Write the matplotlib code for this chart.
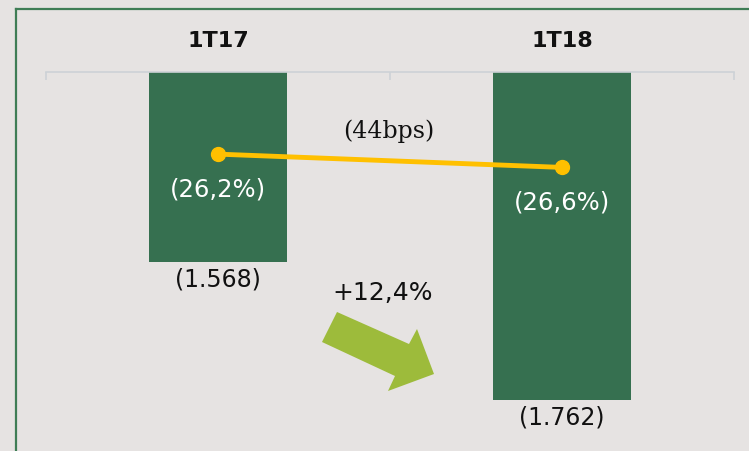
import matplotlib
matplotlib.use("Agg")
import matplotlib.pyplot as plt
from matplotlib.lines import Line2D
from matplotlib.patches import Polygon

categories = ["1T17", "1T18"]
values = [-1568, -1762]
value_labels = ["(1.568)", "(1.762)"]
margins = [-26.2, -26.6]
margin_labels = ["(26,2%)", "(26,6%)"]
change_label = "(44bps)"
growth_label = "+12,4%"

BG = "#E6E3E2"
BAR = "#367050"
LINE = "#FFC000"
ARROW = "#9DBB3B"
FRAME = "#3F7D55"

W, H = 749, 451
fig = plt.figure(figsize=(W / 100, H / 100), dpi=100, facecolor=BG)

def fx(px):
    return px / W

def fy(py):
    return 1 - py / H

# green frame
fig.add_artist(Line2D([fx(16), fx(16)], [fy(9), 0], color=FRAME, lw=1.6))
fig.add_artist(Line2D([fx(16), 1], [fy(9), fy(9)], color=FRAME, lw=1.6))

ax = fig.add_axes([fx(46), 0, fx(734) - fx(46), fy(72)])
ax.set_facecolor("none")
x = list(range(len(categories)))
ax.bar(x, values, width=0.4, color=BAR, zorder=2)
ax.set_xlim(-0.5, 1.5)
ax.set_ylim(-1834, -1300)
for s in ["left", "right", "bottom"]:
    ax.spines[s].set_visible(False)
ax.spines["top"].set_color("#CDD2D6")
ax.spines["top"].set_linewidth(1.2)
ax.set_yticks([])
ax.xaxis.tick_top()
ax.set_xticks(x)
ax.set_xticklabels(categories, fontsize=16, fontweight="bold", color="#111111")
ax.tick_params(axis="x", which="major", length=0, pad=15)
ax.set_xticks([-0.5, 0.5, 1.5], minor=True)
ax.tick_params(axis="x", which="minor", direction="in", length=6, color="#CDD2D6", width=1.2)

for xi, v, lab in zip(x, values, value_labels):
    ax.annotate(lab, (xi, v), xytext=(0, -12.5), textcoords="offset points",
                ha="center", va="center", fontsize=17, color="#111111")

ax2 = ax.twinx()
ax2.set_ylim(-35.13, -23.73)
ax2.set_yticks([])
for s in ax2.spines.values():
    s.set_visible(False)
ax2.plot(x, margins, color=LINE, lw=3.5, marker="o", markersize=10, zorder=3)
for xi, m, lab in zip(x, margins, margin_labels):
    ax2.annotate(lab, (xi, m), xytext=(0, -25.5), textcoords="offset points",
                 ha="center", va="center", fontsize=17.5, color="white")

fig.text(fx(389), fy(131), change_label, ha="center", va="center",
         fontsize=17, family="DejaVu Serif", color="#111111")
fig.text(fx(383), fy(293), growth_label, ha="center", va="center",
         fontsize=18, color="#111111")

arrow_px = [(337, 312), (409, 344), (417, 329), (434, 374),
            (388, 391), (395, 376), (322, 342)]
fig.add_artist(Polygon([(fx(a), fy(b)) for a, b in arrow_px], closed=True,
                       transform=fig.transFigure, facecolor=ARROW, edgecolor="none"))

fig.savefig("out.png", dpi=100, facecolor=BG)
